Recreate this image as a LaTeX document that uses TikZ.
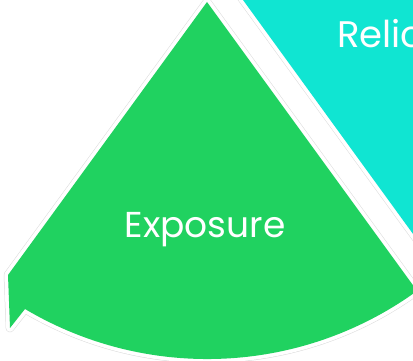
\documentclass[tikz,border=0pt]{standalone}
\usepackage{fontspec}
\setmainfont{Poppins}
\definecolor{segGreen}{RGB}{32,210,96}
\definecolor{segCyan}{RGB}{16,229,210}
\tikzset{
  halo/.style={draw=black!14, line width=8.5pt, line join=round},
  rim/.style={draw=white, line width=7.5pt, line join=round},
  seglabel/.style={text=white, inner sep=0pt, anchor=base}
}
\newcommand\cyanshape[1]{\path[#1] (206.7,411) -- (461,61) -- (520,61) -- (520,411) -- cycle;}
\newcommand\greenshape[1]{\path[#1] (207,359) -- (8,86) -- (10,33) -- (25,52)
  arc[start angle=239.3, end angle=306, radius=357] -- cycle;}
\begin{document}
\begin{tikzpicture}[x=1pt,y=1pt]
\useasboundingbox (0,0) rectangle (413,361);
\clip (0,0) rectangle (413,361);
\fill[white] (0,0) rectangle (413,361);
\cyanshape{halo}
\cyanshape{rim}
\greenshape{halo}
\greenshape{rim}
\cyanshape{fill=segCyan}
\greenshape{fill=segGreen}
\node[seglabel, font=\fontsize{36}{36}\selectfont] (exposure) at (205,123) {Exposure};
\node[seglabel, font=\fontsize{37}{37}\selectfont, anchor=base west] (relic) at (337,313) {Relic};
\end{tikzpicture}
\end{document}
